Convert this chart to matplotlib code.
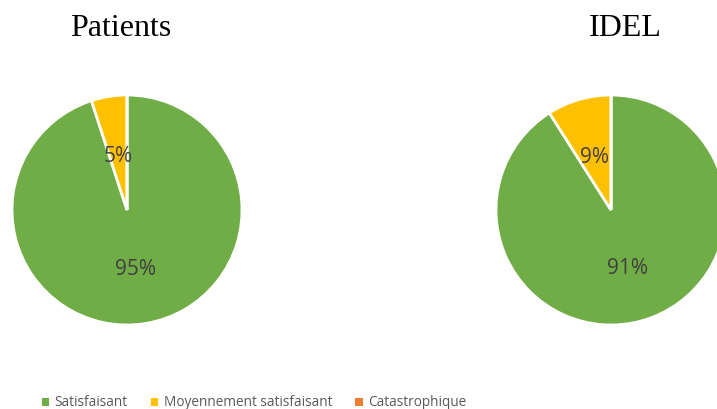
import matplotlib.pyplot as plt
from matplotlib.patches import Patch

categories = ["Satisfaisant", "Moyennement satisfaisant", "Catastrophique"]
patients = [95, 5, 0]
idel = [91, 9, 0]
colors = ["#70AD47", "#FFC000", "#ED7D31"]

W, H = 717, 409
fig = plt.figure(figsize=(W / 100, H / 100), dpi=100)


def pct(v):
    return "" if v < 0.5 else "%.0f%%" % v


def draw_pie(cx, cy, r, values):
    ax = fig.add_axes([(cx - r) / W, (H - cy - r) / H, 2 * r / W, 2 * r / H])
    wedges, texts, autotexts = ax.pie(values, colors=colors, startangle=90, counterclock=False,
                                      autopct=pct, pctdistance=0.5,
                                      wedgeprops=dict(edgecolor="white", linewidth=2.0),
                                      textprops=dict(color="#404040", fontsize=15, family="Open Sans"))
    # labels sit a little low in the original
    for t in autotexts:
        x, y = t.get_position()
        t.set_position((x, y - 0.026))
    ax.set_xlim(-1, 1)
    ax.set_ylim(-1, 1)
    ax.set_aspect("equal")
    return wedges


draw_pie(127, 210, 115, patients)
draw_pie(611, 210, 115, idel)

fig.text(121 / W, 1 - 28 / H, "Patients", ha="center", va="center", fontsize=23,
         family="Liberation Serif")
fig.text(625 / W, 1 - 28 / H, "IDEL", ha="center", va="center", fontsize=23,
         family="Liberation Serif")

handles = [Patch(facecolor=c, edgecolor="none") for c in colors]
fig.legend(handles, categories, loc="center", bbox_to_anchor=(254 / W, 1 - 403 / H), ncol=3,
           frameon=False, handlelength=0.55, handleheight=0.55, handletextpad=0.4,
           columnspacing=1.7, prop=dict(family="Open Sans", size=9.8),
           labelcolor="#595959")

fig.savefig("out.png", dpi=100)
